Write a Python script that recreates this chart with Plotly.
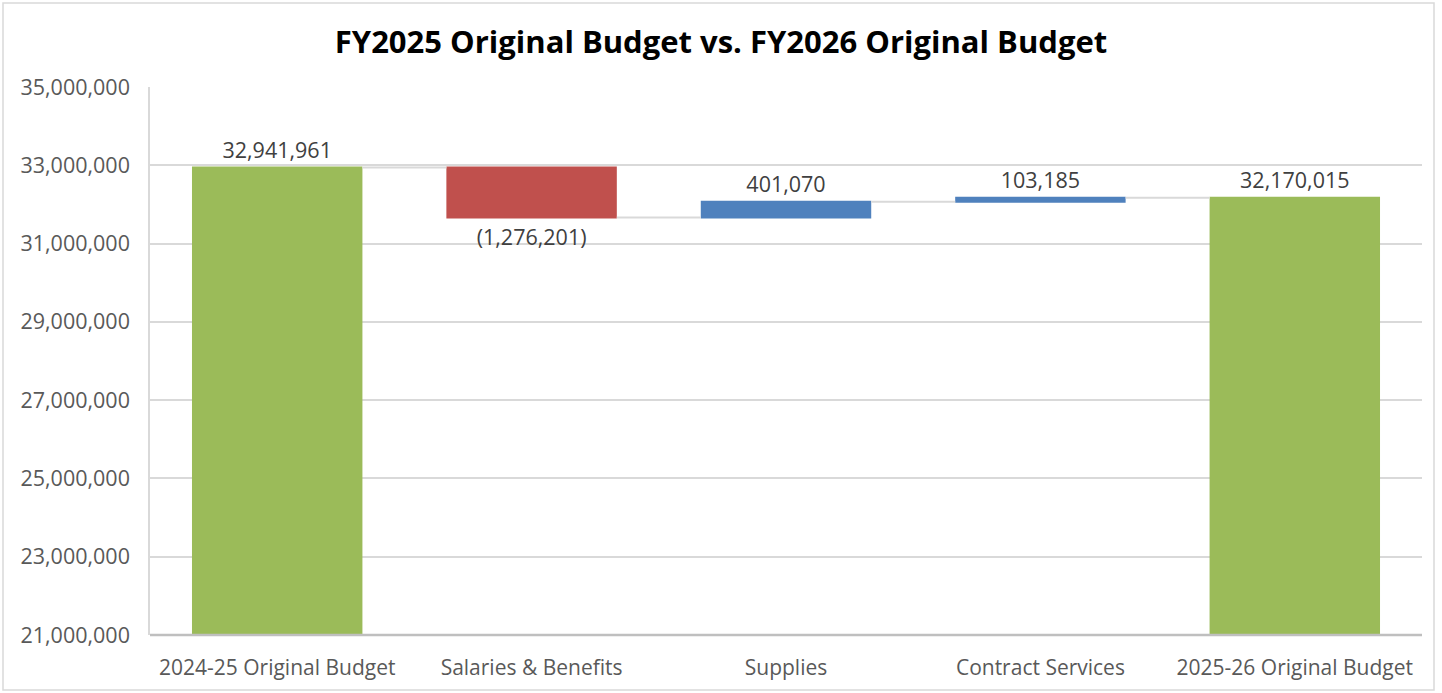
import plotly.graph_objects as go

# Budget bridge: FY2025 original budget to FY2026 original budget
categories = ["2024-25 Original Budget", "Salaries & Benefits", "Supplies",
              "Contract Services", "2025-26 Original Budget"]
amounts = [32941961, -1276201, 401070, 103185, 0]
measures = ["absolute", "relative", "relative", "relative", "total"]
y_ticks = [21000000, 23000000, 25000000, 27000000, 29000000, 31000000, 33000000, 35000000]

# Ending total shown on the final bar
final_total = sum(amounts)


def fmt(v):
    return f"({abs(v):,})" if v < 0 else f"{v:,}"


labels = [fmt(v) for v in amounts[:-1]] + [fmt(final_total)]

W, H = 1442, 693
L, R, T, B = 150, 20, 87, 58
pw, ph = W - L - R, H - T - B

fig = go.Figure(go.Waterfall(
    x=categories,
    y=amounts,
    measure=measures,
    text=labels,
    textposition="outside",
    textfont=dict(family="Open Sans", size=21.5, color="#404040"),
    cliponaxis=False,
    increasing=dict(marker=dict(color="#4F81BD")),
    decreasing=dict(marker=dict(color="#C0504D")),
    totals=dict(marker=dict(color="#9BBB59")),
    connector=dict(line=dict(color="#D9D9D9", width=2), mode="between"),
    width=0.67,
    hoverinfo="x+y",
))

fig.update_layout(
    width=W, height=H,
    margin=dict(l=L, r=R, t=T, b=B),
    paper_bgcolor="white",
    plot_bgcolor="white",
    showlegend=False,
    title=dict(
        text="<b>FY2025 Original Budget vs. FY2026 Original Budget</b>",
        x=0.5, xanchor="center", y=1 - 42 / H, yanchor="middle",
        xref="container",
        font=dict(family="Open Sans", size=31, color="#000000"),
    ),
    font=dict(family="Open Sans", color="#595959"),
    yaxis=dict(
        range=[21000000, 35000000],
        tickvals=y_ticks,
        tickformat=",d",
        tickfont=dict(size=21.5, color="#595959"),
        showgrid=True, gridcolor="#D9D9D9", gridwidth=1.5,
        showline=True, linecolor="#D9D9D9", linewidth=1.5,
        zeroline=False,
        ticks="", ticklabelstandoff=14,
    ),
    xaxis=dict(
        tickfont=dict(size=21, color="#595959"),
        showline=False,
        ticks="", ticklabelstandoff=18,
    ),
    shapes=[
        # category axis line at the bottom of the plot
        dict(type="line", xref="paper", yref="paper", x0=0, x1=1, y0=0, y1=0,
             line=dict(color="#BFBFBF", width=2.5), layer="above"),
        # chart frame
        dict(type="rect", xref="paper", yref="paper",
             x0=(3 - L) / pw, x1=(1434 - L) / pw,
             y0=(T + ph - 690) / ph, y1=(T + ph - 3) / ph,
             line=dict(color="#D9D9D9", width=1.5), layer="below"),
    ],
)

fig.write_html("out.html")
